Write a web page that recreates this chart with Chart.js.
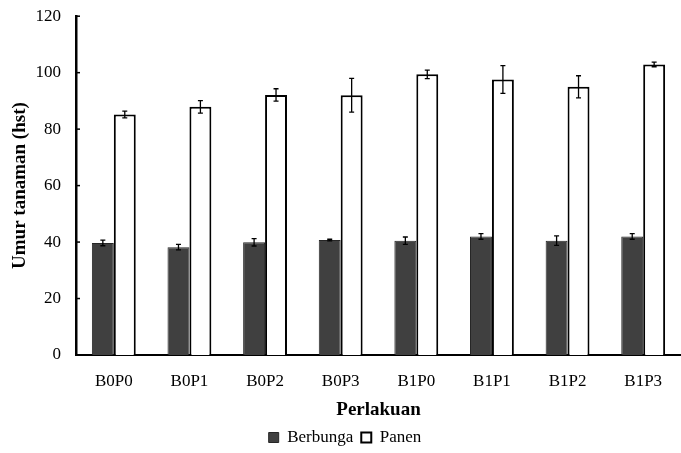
<!DOCTYPE html>
<html>
<head>
<meta charset="utf-8">
<script src="https://cdn.jsdelivr.net/npm/chart.js@4"></script>
<style>
    html, body { margin: 0; padding: 0; background: #ffffff; }
    #wrap { width: 681px; height: 453px; position: relative; }
</style>
</head>
<body>
<div id="wrap"><canvas id="umurChart"></canvas></div>
<script>
// Data
const categories = ['B0P0', 'B0P1', 'B0P2', 'B0P3', 'B1P0', 'B1P1', 'B1P2', 'B1P3'];
const berbunga = [39.7, 38.2, 39.9, 40.7, 40.5, 42.0, 40.5, 42.0];
const berbungaErr = [1.0, 1.0, 1.3, 0.3, 1.3, 1.0, 1.7, 1.0];
const panen = [85.2, 87.9, 92.1, 92.0, 99.4, 97.6, 95.0, 102.9];
const panenErr = [1.2, 2.2, 2.2, 6.0, 1.5, 4.9, 3.9, 0.8];
const yTicks = [0, 20, 40, 60, 80, 100, 120];

const serif = "'Liberation Serif', 'Times New Roman', serif";

// Draw error bars and inward y ticks using the chart's scales
const errorBarPlugin = {
    id: 'errorBars',
    afterDatasetsDraw(chart) {
        const ctx = chart.ctx;
        const yScale = chart.scales.y;
        const errs = [berbungaErr, panenErr];
        ctx.save();
        ctx.strokeStyle = '#000000';
        ctx.lineWidth = 1.3;
        chart.data.datasets.forEach((ds, di) => {
            const meta = chart.getDatasetMeta(di);
            meta.data.forEach((bar, i) => {
                const v = ds.data[i];
                const e = errs[di][i];
                const x = bar.x;
                const yTop = yScale.getPixelForValue(v + e);
                const yBot = yScale.getPixelForValue(v - e);
                ctx.beginPath();
                ctx.moveTo(x, yTop);
                ctx.lineTo(x, yBot);
                ctx.moveTo(x - 2.5, yTop);
                ctx.lineTo(x + 2.5, yTop);
                ctx.moveTo(x - 2.5, yBot);
                ctx.lineTo(x + 2.5, yBot);
                ctx.stroke();
            });
        });
        // inward tick marks on the y axis
        ctx.lineWidth = 1.5;
        const x0 = chart.chartArea.left;
        yTicks.forEach(t => {
            const y = yScale.getPixelForValue(t);
            ctx.beginPath();
            ctx.moveTo(x0, y);
            ctx.lineTo(x0 + 4, y);
            ctx.stroke();
        });
        ctx.restore();
    }
};

new Chart(document.getElementById('umurChart'), {
    type: 'bar',
    data: {
        labels: categories,
        datasets: [
            {
                label: 'Berbunga',
                data: berbunga,
                backgroundColor: '#404040',
                borderColor: '#262626',
                borderWidth: 1
            },
            {
                label: 'Panen',
                data: panen,
                backgroundColor: '#ffffff',
                borderColor: '#000000',
                borderWidth: 2
            }
        ]
    },
    options: {
        responsive: true,
        maintainAspectRatio: false,
        animation: false,
        layout: { padding: { top: 0, right: 0, left: 9, bottom: -3 } },
        datasets: {
            bar: { categoryPercentage: 0.58, barPercentage: 1.0 }
        },
        scales: {
            x: {
                grid: { display: false, drawTicks: false },
                border: { color: '#000000', width: 2 },
                ticks: {
                    color: '#000000',
                    padding: 16,
                    font: { family: serif, size: 17 }
                },
                title: {
                    display: true,
                    text: 'Perlakuan',
                    color: '#000000',
                    padding: { top: 0, bottom: 0 },
                    font: { family: serif, size: 19, weight: 'bold' }
                },
                afterFit(scale) { scale.height = 66; }
            },
            y: {
                min: 0,
                max: 120,
                grid: { display: false, drawTicks: true, tickLength: 9 },
                border: { color: '#000000', width: 2.5 },
                ticks: {
                    stepSize: 20,
                    color: '#000000',
                    padding: 6,
                    font: { family: serif, size: 17 }
                },
                title: {
                    display: true,
                    text: 'Umur tanaman (hst)',
                    color: '#000000',
                    padding: { top: 0, bottom: 0 },
                    font: { family: serif, size: 19, weight: 'bold' }
                },
                afterFit(scale) { scale.width = 67; }
            }
        },
        plugins: {
            legend: {
                position: 'bottom',
                labels: {
                    color: '#000000',
                    boxWidth: 10,
                    boxHeight: 10,
                    padding: 8,
                    font: { family: serif, size: 17 }
                }
            },
            tooltip: { enabled: false }
        }
    },
    plugins: [errorBarPlugin]
});
</script>
</body>
</html>
